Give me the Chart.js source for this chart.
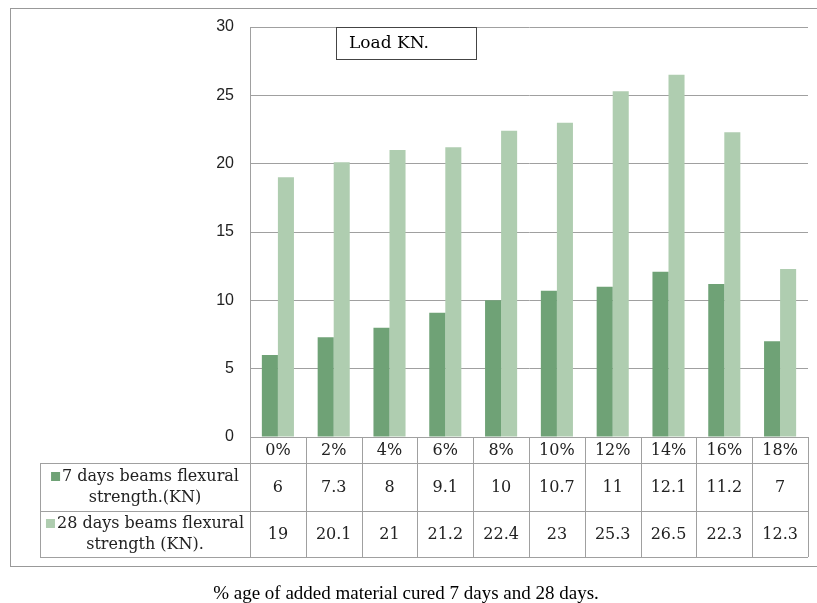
<!DOCTYPE html>
<html>
<head>
<meta charset="utf-8">
<script src="https://cdn.jsdelivr.net/npm/chart.js@4/dist/chart.umd.min.js"></script>
<style>
  body { margin: 0; background: #fff; }
  #wrap { width: 817px; height: 603px; }
</style>
</head>
<body>
<div id="wrap"><canvas id="loadChart" width="817" height="603"></canvas></div>
<script>
const categories = ["0%", "2%", "4%", "6%", "8%", "10%", "12%", "14%", "16%", "18%"];
const days7 = [6, 7.3, 8, 9.1, 10, 10.7, 11, 12.1, 11.2, 7];
const days28 = [19, 20.1, 21, 21.2, 22.4, 23, 25.3, 26.5, 22.3, 12.3];
const seriesNames = [
  ["7 days beams flexural", "strength.(KN)"],
  ["28 days beams flexural", "strength (KN)."]
];
const yTicks = [0, 5, 10, 15, 20, 25, 30];

const dark = "#6fa276";
const light = "#afcdb0";
const lineGray = "#a0a0a0";
const tableFont = "16px 'DejaVu Serif'";

// draws the outer frame, the "Load KN." box, the data table and the caption
const extras = {
  id: "extras",
  afterDraw(chart) {
    const ctx = chart.ctx;
    const x = chart.scales.x;
    const area = chart.chartArea;
    const step = x.getPixelForValue(1) - x.getPixelForValue(0);
    const left = x.getPixelForValue(0) - step / 2;
    const right = x.getPixelForValue(categories.length - 1) + step / 2;
    const top = area.bottom;
    const rows = [top, top + 26, top + 74, top + 120];
    const tableLeft = 40;

    ctx.save();
    // outer frame
    ctx.strokeStyle = "#999";
    ctx.lineWidth = 1;
    ctx.strokeRect(10.5, 8.5, 830, 558);

    // title box
    ctx.strokeStyle = "#444";
    ctx.strokeRect(336.5, 27.5, 140, 32);
    ctx.fillStyle = "#fff";
    ctx.fillRect(337, 28, 139, 31);
    ctx.fillStyle = "#000";
    ctx.font = "17px 'DejaVu Serif'";
    ctx.textAlign = "left";
    ctx.textBaseline = "middle";
    ctx.fillText("Load KN.", 349, 44);

    // table lines
    ctx.strokeStyle = lineGray;
    ctx.beginPath();
    ctx.moveTo(left, rows[0] + 0.5); ctx.lineTo(right, rows[0] + 0.5);
    for (let r = 1; r < rows.length; r++) {
      ctx.moveTo(tableLeft, rows[r] + 0.5); ctx.lineTo(right, rows[r] + 0.5);
    }
    ctx.moveTo(tableLeft + 0.5, rows[1]); ctx.lineTo(tableLeft + 0.5, rows[3]);
    for (let i = 0; i <= categories.length; i++) {
      const cx = Math.round(left + i * step) + 0.5;
      ctx.moveTo(cx, rows[0]); ctx.lineTo(cx, rows[3]);
    }
    ctx.stroke();

    // header and values
    ctx.fillStyle = "#222";
    ctx.font = tableFont;
    ctx.textAlign = "center";
    ctx.textBaseline = "middle";
    const sets = [days7, days28];
    categories.forEach((c, i) => {
      const cx = x.getPixelForValue(i);
      ctx.fillText(c, cx, (rows[0] + rows[1]) / 2 + 1);
      sets.forEach((s, k) => {
        ctx.fillText(String(s[i]), cx, (rows[k + 1] + rows[k + 2]) / 2 + 1);
      });
    });

    // legend cells
    const colors = [dark, light];
    const mid = (tableLeft + left) / 2;
    seriesNames.forEach((lines, k) => {
      const cy = (rows[k + 1] + rows[k + 2]) / 2;
      const w = ctx.measureText(lines[0]).width + 11;
      const sx = mid - w / 2;
      ctx.fillStyle = colors[k];
      ctx.fillRect(sx, cy - 15, 9, 9);
      ctx.fillStyle = "#222";
      ctx.textAlign = "left";
      ctx.fillText(lines[0], sx + 11, cy - 10);
      ctx.textAlign = "center";
      ctx.fillText(lines[1], mid, cy + 11);
    });

    // caption
    ctx.fillStyle = "#000";
    ctx.font = "19px 'Liberation Serif'";
    ctx.fillText("% age of added material cured 7 days and 28 days.", 406, 594);
    ctx.restore();
  }
};

new Chart(document.getElementById("loadChart"), {
  type: "bar",
  data: {
    labels: categories,
    datasets: [
      { label: seriesNames[0].join(" "), data: days7, backgroundColor: dark },
      { label: seriesNames[1].join(" "), data: days28, backgroundColor: light }
    ]
  },
  options: {
    responsive: false,
    animation: false,
    layout: { padding: { left: 10, top: 27, right: 9, bottom: 166 } },
    datasets: { bar: { categoryPercentage: 0.575, barPercentage: 1 } },
    plugins: { legend: { display: false }, tooltip: { enabled: false } },
    scales: {
      x: { display: false },
      y: {
        min: 0,
        max: 30,
        afterFit(scale) { scale.width = 240; },
        afterBuildTicks(scale) { scale.ticks = yTicks.map(v => ({ value: v })); },
        grid: { color: lineGray, drawTicks: false },
        border: { display: true, color: lineGray },
        ticks: {
          padding: 16,
          color: "#222",
          font: { family: "'Liberation Sans'", size: 16 }
        }
      }
    }
  },
  plugins: [extras]
});
</script>
</body>
</html>
